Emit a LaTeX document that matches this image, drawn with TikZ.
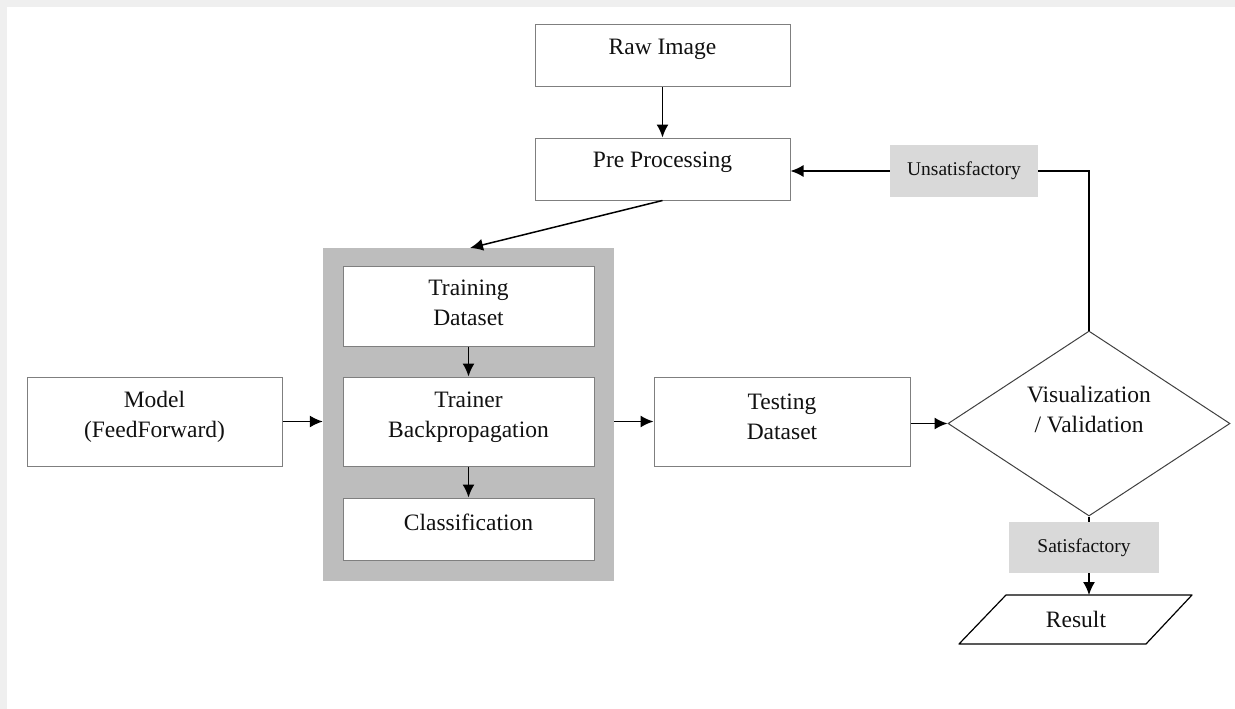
\documentclass[tikz,border=0pt]{standalone}
\usepackage{fontspec}
\setmainfont{Liberation Serif}
\usetikzlibrary{arrows.meta,shapes.geometric}
\definecolor{framegray}{HTML}{EFEFEF}
\definecolor{blockgray}{HTML}{BDBDBD}
\definecolor{tagfill}{HTML}{D9D9D9}
\definecolor{edgegray}{HTML}{7F7F7F}
\definecolor{ink}{HTML}{111111}
\tikzset{
  stepbox/.style={draw=edgegray, line width=1pt, fill=white, inner sep=0pt},
  txt/.style={text=ink, align=center, inner sep=0pt,
    font=\fontsize{23.5}{30}\selectfont},
  tag/.style={fill=tagfill, inner sep=0pt, text=ink,
    font=\fontsize{19.5}{23}\selectfont},
  flow/.style={draw=black, line width=1.5pt, -{Latex[length=13pt,width=12pt]}},
  link/.style={draw=black, line width=1.4pt},
}
\begin{document}
\begin{tikzpicture}[x=1pt, y=-1pt]
\useasboundingbox (0,0) rectangle (1235,709);
% page frame
\fill[framegray] (0,0) rectangle (1235,7);
\fill[framegray] (0,0) rectangle (7,709);

% top chain
\node[stepbox, minimum width=255pt, minimum height=62pt] (raw) at (662.5,56) {};
\node[txt] (rawtxt) at (662.5,49) {Raw Image};
\node[stepbox, minimum width=255pt, minimum height=62pt] (pre) at (662.5,169) {};
\node[txt] (pretxt) at (662.5,162) {Pre Processing};

% training block
\node[fill=blockgray, minimum width=291pt, minimum height=333pt, inner sep=0pt] (grp) at (468.5,414.5) {};
\node[stepbox, minimum width=251pt, minimum height=80pt] (train) at (468.5,306) {};
\node[txt] (traintxt) at (468.5,303) {Training\\Dataset};
\node[stepbox, minimum width=251pt, minimum height=89pt] (trainer) at (468.5,421.5) {};
\node[txt] (trainertxt) at (468.5,417) {Trainer\\Backpropagation};
\node[stepbox, minimum width=251pt, minimum height=62pt] (cls) at (468.5,529) {};
\node[txt] (clstxt) at (468.5,522) {Classification};

% model and testing
\node[stepbox, minimum width=255pt, minimum height=89pt] (model) at (154.5,421.5) {};
\node[txt] (modeltxt) at (154.5,417) {Model\\(FeedForward)};
\node[stepbox, minimum width=256pt, minimum height=89pt] (test) at (782,421.5) {};
\node[txt] (testtxt) at (782,417) {Testing\\Dataset};

% decision
\node[diamond, draw=black!75, line width=1pt, fill=white, inner sep=0pt,
      minimum width=282pt, minimum height=185pt] (dec) at (1089,423.5) {};
\node[txt] (dectxt) at (1089,409.5) {Visualization\\/ Validation};

% outcome tags
\node[tag, minimum width=148pt, minimum height=52pt] (unsat) at (964,171) {Unsatisfactory};
\node[tag, minimum width=150pt, minimum height=51pt] (sat) at (1084,547.5) {Satisfactory};

% result (parallelogram)
\node[txt, minimum width=186pt, minimum height=49pt] (result) at (1076,619.5) {Result};
\draw[black, line width=1.2pt, line join=round]
  (1006,595) -- (1192,595) -- (1146,644) -- (959,644) -- cycle;
\coordinate (restop) at (1089,595);

% connectors
\draw[flow] (raw.south) -- (pre.north);
\draw[flow] (pre.south) -- (470,248);
\draw[flow] (train.south) -- (trainer.north);
\draw[flow] (trainer.south) -- (cls.north);
\draw[flow] (model.east) -- (grp.west |- model.east);
\draw[flow] (grp.east |- test.west) -- (test.west);
\draw[flow] (test.east |- dec.west) -- (dec.west);
\draw[link] (dec.north) |- (unsat.east);
\draw[flow] (unsat.west) -- (pre.east |- unsat.west);
\draw[link] (dec.south) -- (dec.south |- sat.north);
\draw[flow] (dec.south |- sat.south) -- (restop);
\end{tikzpicture}
\end{document}
